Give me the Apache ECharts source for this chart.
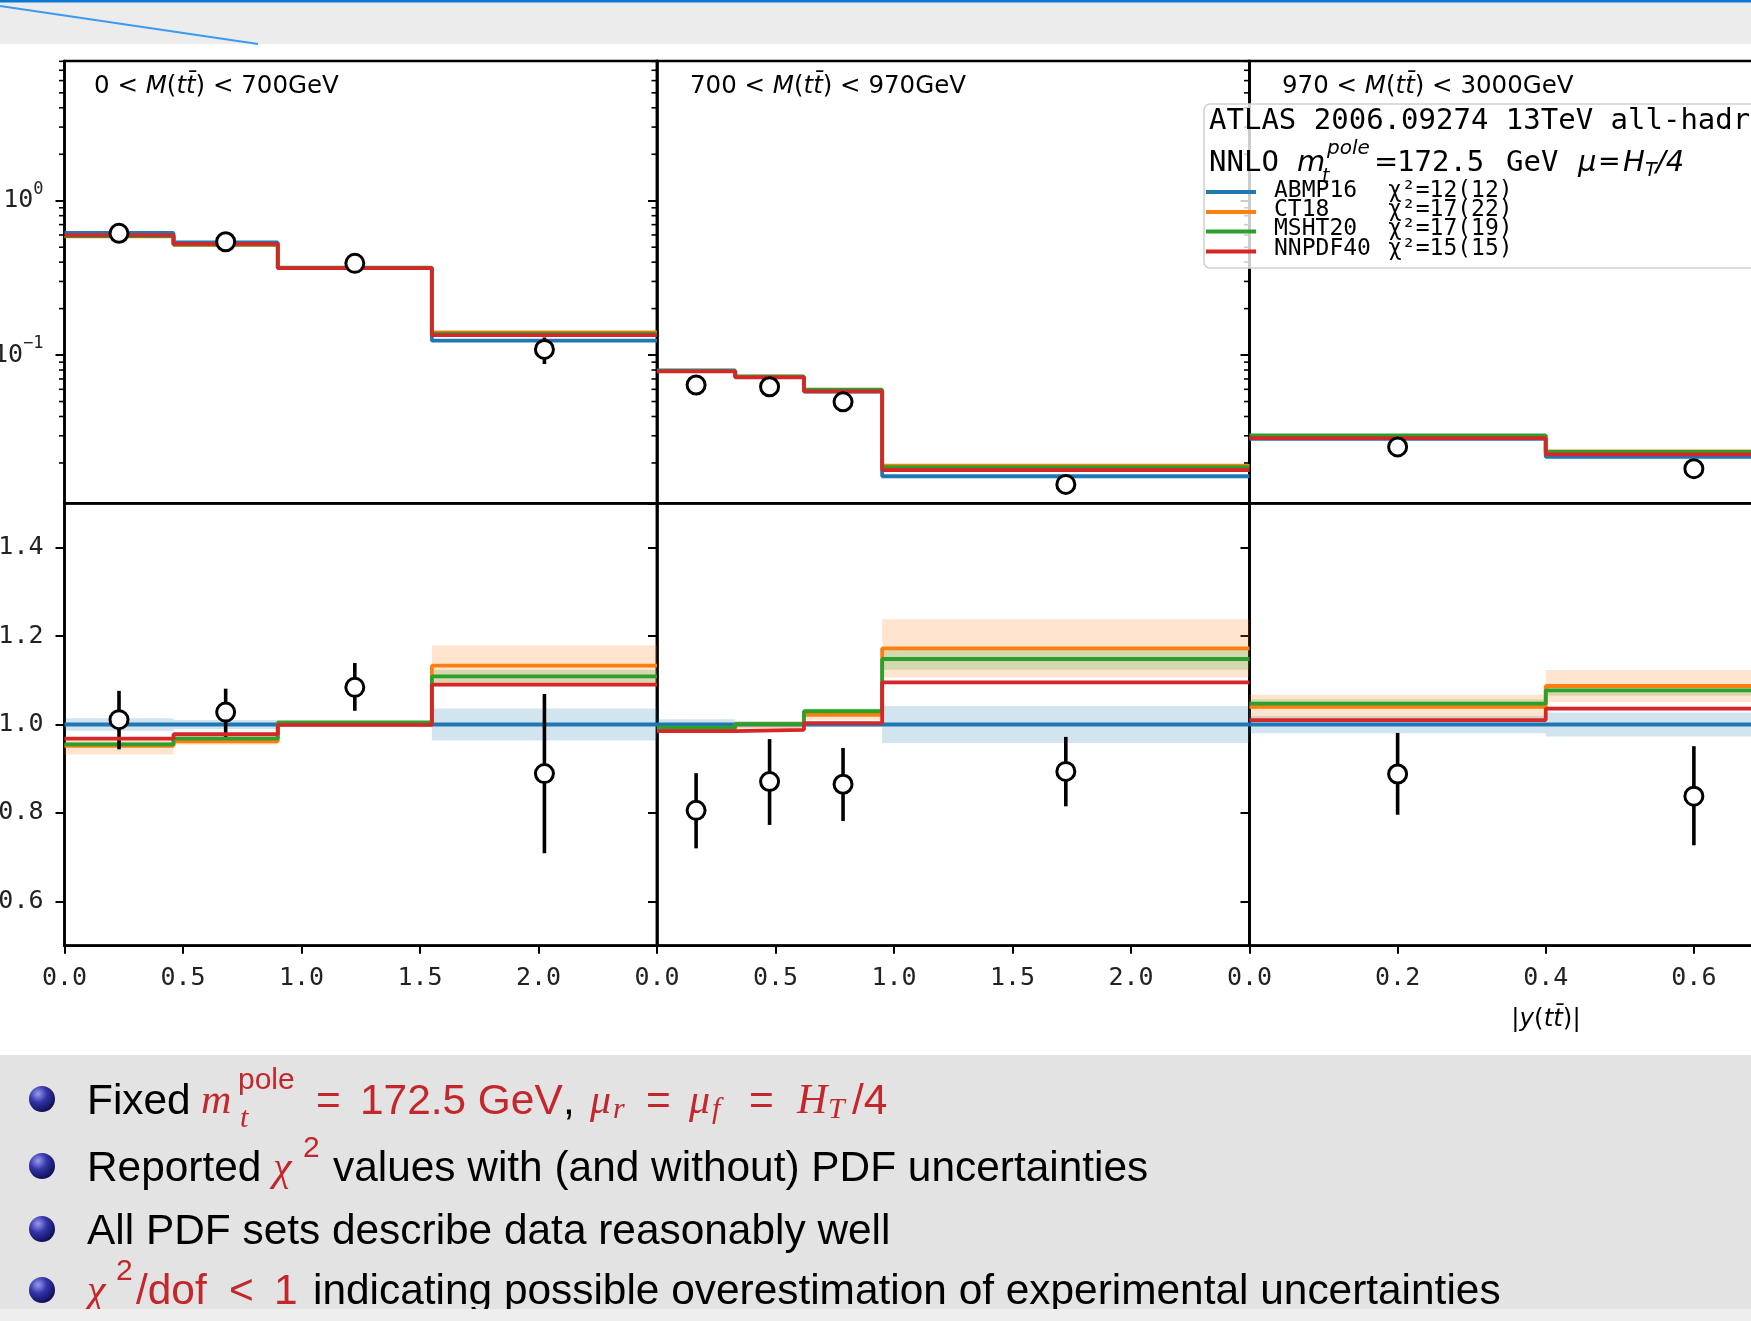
<!DOCTYPE html>
<html><head><meta charset="utf-8">
<script src="https://cdn.jsdelivr.net/npm/echarts@6/dist/echarts.min.js"></script>
<style>html,body{margin:0;padding:0;background:#fff;}#c{width:1751px;height:1321px;}</style>
</head><body><div id="c"></div>
<script>
// ---------------- data ----------------
const pdfNames = ['ABMP16', 'CT18', 'MSHT20', 'NNPDF40'];
const pdfColors = ['#1f77b4', '#ff7f0e', '#2ca02c', '#d62728'];
const pdfBandColors = ['rgba(31,119,180,0.2)', 'rgba(255,127,14,0.2)', 'rgba(44,160,44,0.2)', 'rgba(214,39,40,0.2)'];
const chi2Labels = ['χ²=12(12)', 'χ²=17(22)', 'χ²=17(19)', 'χ²=15(15)'];

const massLow = ['0', '700', '970'];
const massHigh = ['700', '970', '3000'];

const binEdges = [
  [0, 0.46, 0.9, 1.55, 2.5],
  [0, 0.33, 0.62, 0.95, 2.5],
  [0, 0.4, 0.8]
];
const xMax = [2.5, 2.5, 0.8];
const xTickStep = [0.5, 0.5, 0.2];

// absolute cross sections (upper panels, log scale)
const absABMP16 = [[0.618, 0.537, 0.366, 0.124], [0.0795, 0.0725, 0.0580, 0.0164], [0.0287, 0.0219]];
const absCT18 = [[0.588, 0.517, 0.367, 0.1405], [0.0788, 0.0725, 0.0593, 0.0192], [0.0298, 0.0238]];
const absMSHT20 = [[0.590, 0.520, 0.368, 0.1375], [0.0790, 0.0726, 0.0597, 0.0188], [0.0302, 0.0236]];
const absNNPDF40 = [[0.598, 0.525, 0.366, 0.1345], [0.0783, 0.0716, 0.0582, 0.0180], [0.0290, 0.0227]];

const absData = [[0.615, 0.542, 0.393, 0.1088], [0.0640, 0.0623, 0.0498, 0.01452], [0.0254, 0.01836]];
const absDataLo = [[0.575, 0.514, 0.374, 0.0875], [0.0573, 0.0553, 0.0452, 0.01325], [0.0229, 0.0159]];
const absDataHi = [[0.655, 0.570, 0.412, 0.130], [0.0706, 0.0692, 0.0545, 0.0158], [0.0279, 0.0208]];

// ratios to ABMP16 (lower panels)
const ratioABMP16 = [[1, 1, 1, 1], [1, 1, 1, 1], [1, 1]];
const ratioCT18 = [[0.952, 0.962, 1.002, 1.133], [0.990, 1.000, 1.022, 1.172], [1.040, 1.087]];
const ratioMSHT20 = [[0.955, 0.968, 1.005, 1.109], [0.993, 1.001, 1.030, 1.148], [1.047, 1.077]];
const ratioNNPDF40 = [[0.968, 0.978, 0.999, 1.090], [0.985, 0.988, 1.003, 1.095], [1.010, 1.036]];

const bandABMP16 = [[0.014, 0.010, 0.003, 0.036], [0.012, 0.008, 0.005, 0.042], [0.020, 0.027]];
const bandCT18 = [[0.020, 0.008, 0.004, 0.046], [0.007, 0.007, 0.011, 0.066], [0.027, 0.036]];
const bandMSHT20 = [[0.006, 0.005, 0.003, 0.014], [0.004, 0.004, 0.006, 0.024], [0.010, 0.012]];
const bandNNPDF40 = [[0.003, 0.003, 0.002, 0.004], [0.003, 0.003, 0.003, 0.004], [0.003, 0.004]];

const ratioData = [[1.011, 1.028, 1.084, 0.889], [0.806, 0.871, 0.865, 0.894], [0.888, 0.838]];
const ratioDataLo = [[0.944, 0.972, 1.031, 0.709], [0.720, 0.773, 0.782, 0.815], [0.796, 0.727]];
const ratioDataHi = [[1.076, 1.081, 1.139, 1.069], [0.890, 0.967, 0.947, 0.972], [0.981, 0.951]];

const logTickExponents = { '0': '0', '-1': '−1' };
const logMinorTicks = [0.02, 0.03, 0.04, 0.05, 0.06, 0.07, 0.08, 0.09,
  0.2, 0.3, 0.4, 0.5, 0.6, 0.7, 0.8, 0.9, 2, 3, 4, 5, 6, 7, 8];
const logMin = 0.01094, logMax = 8.04;
const ratioMin = 0.5, ratioMax = 1.5;

const absPred = [absABMP16, absCT18, absMSHT20, absNNPDF40];
const ratioPred = [ratioABMP16, ratioCT18, ratioMSHT20, ratioNNPDF40];
const ratioBand = [bandABMP16, bandCT18, bandMSHT20, bandNNPDF40];

// ---------------- layout ----------------
const panelLeft = [64.5, 657, 1249.5];
const panelWidth = 592.5;
const rowTop = [61, 503.3];
const rowHeight = 442.4;
const MONO = '"DejaVu Sans Mono"';
const SANS = '"DejaVu Sans"';
const LW = 3.8;

function stepData(edges, vals) {
  return edges.map((e, i) => [e, vals[Math.min(i, vals.length - 1)]]);
}
function mids(edges) {
  const m = [];
  for (let i = 0; i < edges.length - 1; i++) m.push((edges[i] + edges[i + 1]) / 2);
  return m;
}

const grids = [], xAxes = [], yAxes = [], series = [];
for (let r = 0; r < 2; r++) {
  for (let p = 0; p < 3; p++) {
    const gi = r * 3 + p;
    grids.push({
      left: panelLeft[p], top: rowTop[r], width: panelWidth, height: rowHeight,
      show: true, borderColor: '#000', borderWidth: 2.5, backgroundColor: 'rgba(0,0,0,0)',
      containLabel: false, outerBoundsMode: 'none'
    });
    const bottom = r === 1;
    xAxes.push({
      type: 'value', gridIndex: gi, min: 0, max: xMax[p], interval: xTickStep[p],
      axisLine: { show: bottom, onZero: false, lineStyle: { color: '#000', width: 2.5 } },
      axisTick: { show: bottom, length: 8, lineStyle: { color: '#000', width: 2 } },
      axisLabel: {
        show: bottom, margin: 20, showMaxLabel: false, color: '#222',
        fontFamily: 'DejaVu Sans Mono', fontSize: 25,
        formatter: v => v.toFixed(1)
      },
      splitLine: { show: false }
    });
    if (!bottom) {
      yAxes.push({
        type: 'log', logBase: 10, gridIndex: gi, min: logMin, max: logMax,
        axisLine: { show: true, onZero: false, lineStyle: { color: '#000', width: 2.5 } },
        axisTick: { show: true, length: 9, lineStyle: { color: '#000', width: 2 } },
        axisLabel: {
          show: p === 0, margin: 21, color: '#222', fontFamily: 'DejaVu Sans Mono', fontSize: 25,
          showMinLabel: false, showMaxLabel: false,
          formatter: v => {
            const l = Math.log10(v), rr = Math.round(l);
            if (Math.abs(l - rr) > 1e-6) return '';
            const e = logTickExponents[String(rr)];
            return e === undefined ? '' : '{b|10}{s|' + e + '}';
          },
          rich: {
            b: { fontFamily: 'DejaVu Sans Mono', fontSize: 25, color: '#222', lineHeight: 40, verticalAlign: 'middle' },
            s: { fontFamily: 'DejaVu Sans Mono', fontSize: 17, color: '#222', lineHeight: 18, verticalAlign: 'top' }
          }
        },
        splitLine: { show: false }, minorTick: { show: false }
      });
    } else {
      yAxes.push({
        type: 'value', gridIndex: gi, min: ratioMin, max: ratioMax, splitNumber: 5,
        axisLine: { show: true, onZero: false, lineStyle: { color: '#000', width: 2.5 } },
        axisTick: { show: true, length: 9, lineStyle: { color: '#000', width: 2 } },
        axisLabel: {
          show: p === 0, margin: 21, color: '#222', fontFamily: 'DejaVu Sans Mono', fontSize: 25,
          showMinLabel: false, showMaxLabel: false,
          formatter: v => v.toFixed(1)
        },
        splitLine: { show: false }
      });
    }
  }
}

function errorBarSeries(ai, xs, lo, hi) {
  return {
    type: 'custom', xAxisIndex: ai, yAxisIndex: ai, z: 6, silent: true,
    data: xs.map((x, i) => [x, lo[i], hi[i]]),
    encode: { x: 0, y: [1, 2] },
    renderItem: (params, api) => {
      const a = api.coord([api.value(0), api.value(1)]);
      const b = api.coord([api.value(0), api.value(2)]);
      return { type: 'line', shape: { x1: a[0], y1: a[1], x2: b[0], y2: b[1] },
        style: { stroke: '#000', lineWidth: 3.6 } };
    }
  };
}
function markerSeries(ai, xs, vals) {
  return {
    type: 'scatter', xAxisIndex: ai, yAxisIndex: ai, z: 7, silent: true,
    symbol: 'circle', symbolSize: 18,
    itemStyle: { color: '#fff', borderColor: '#000', borderWidth: 3, opacity: 1 },
    data: xs.map((x, i) => [x, vals[i]])
  };
}

for (let p = 0; p < 3; p++) {
  const edges = binEdges[p];
  const xs = mids(edges);
  // upper panel
  const ai = p;
  for (let k = 0; k < 4; k++) {
    series.push({
      type: 'line', xAxisIndex: ai, yAxisIndex: ai, step: 'end', showSymbol: false, silent: true,
      z: 3 + k, data: stepData(edges, absPred[k][p]),
      lineStyle: { color: pdfColors[k], width: LW }
    });
  }
  series.push(errorBarSeries(ai, xs, absDataLo[p], absDataHi[p]));
  series.push(markerSeries(ai, xs, absData[p]));
  // minor log ticks
  series.push({
    type: 'custom', xAxisIndex: ai, yAxisIndex: ai, z: 8, silent: true, clip: false,
    data: logMinorTicks.map(v => [0, v]),
    encode: { x: 0, y: 1 },
    renderItem: (params, api) => {
      const pt = api.coord([0, api.value(1)]);
      return { type: 'line', shape: { x1: pt[0] - 5.5, y1: pt[1], x2: pt[0], y2: pt[1] },
        style: { stroke: '#000', lineWidth: 1.6 } };
    }
  });
  // lower panel
  const bi = 3 + p;
  for (let k = 0; k < 4; k++) {
    const v = ratioPred[k][p], b = ratioBand[k][p];
    series.push({
      type: 'custom', xAxisIndex: bi, yAxisIndex: bi, z: 1, silent: true,
      data: v.map((val, i) => [edges[i], edges[i + 1], val - b[i], val + b[i]]),
      encode: { x: [0, 1], y: [2, 3] },
      renderItem: (params, api) => {
        const a = api.coord([api.value(0), api.value(3)]);
        const c = api.coord([api.value(1), api.value(2)]);
        return { type: 'rect', shape: { x: a[0], y: a[1], width: c[0] - a[0], height: c[1] - a[1] },
          style: { fill: pdfBandColors[k] } };
      }
    });
  }
  for (let k = 0; k < 4; k++) {
    series.push({
      type: 'line', xAxisIndex: bi, yAxisIndex: bi, step: 'end', showSymbol: false, silent: true,
      z: 3 + k, data: stepData(edges, ratioPred[k][p]),
      lineStyle: { color: pdfColors[k], width: LW }
    });
  }
  series.push(errorBarSeries(bi, xs, ratioDataLo[p], ratioDataHi[p]));
  series.push(markerSeries(bi, xs, ratioData[p]));
}

// ---------------- graphic (texts, slide decoration) ----------------
const RED = '#c3262b';
function txt(x, y, text, font, fill, extra) {
  return Object.assign({
    type: 'text', z: 50, silent: true,
    style: { x: x, y: y, text: text, font: font, fill: fill || '#000',
      align: 'left', textAlign: 'left', verticalAlign: 'middle', textVerticalAlign: 'middle' }
  }, extra || {});
}
const g = [];
// slide header
g.push({ type: 'rect', z: 0, silent: true, shape: { x: 0, y: 0, width: 1751, height: 44 }, style: { fill: '#ececec' } });
g.push({ type: 'rect', z: 1, silent: true, shape: { x: 0, y: 0, width: 1751, height: 2.5 }, style: { fill: '#0a78d2' } });
g.push({ type: 'line', z: 1, silent: true, shape: { x1: 0, y1: 6, x2: 258, y2: 44 }, style: { stroke: '#3a9af0', lineWidth: 2 } });
// bottom bullet block
g.push({ type: 'rect', z: 0, silent: true, shape: { x: 0, y: 1055, width: 1751, height: 254 }, style: { fill: '#e3e3e3' } });

// panel titles
const titleRich = {
  n: { fontFamily: 'DejaVu Sans', fontSize: 24.5, fill: '#000' },
  i: { fontFamily: 'DejaVu Sans', fontSize: 24.5, fontStyle: 'italic', fill: '#000' }
};
const titleX = [94, 690, 1282];
for (let p = 0; p < 3; p++) {
  g.push({ type: 'text', z: 50, silent: true, style: {
    x: titleX[p], y: 87, verticalAlign: 'middle', textVerticalAlign: 'middle',
    text: '{n|' + massLow[p] + ' < }{i|M}{n|(}{i|tt\u0304}{n|) < ' + massHigh[p] + 'GeV}', rich: titleRich } });
}
// x axis title
g.push({ type: 'text', z: 50, silent: true, style: {
  x: 1546, y: 1020, align: 'center', textAlign: 'center', verticalAlign: 'middle', textVerticalAlign: 'middle',
  text: '{n||}{i|y}{n|(}{i|tt\u0304}{n|)|}', rich: titleRich } });

// legend
g.push({ type: 'rect', z: 100, silent: true, shape: { x: 1204, y: 104, width: 640, height: 164, r: 6 },
  style: { fill: 'rgba(255,255,255,0.8)', stroke: '#cfcfcf', lineWidth: 1.5 } });
const LZ = { z: 101 };
g.push(txt(1209, 121, 'ATLAS 2006.09274 13TeV all-hadronic', '29px ' + MONO, '#000', LZ));
g.push(txt(1209, 163, 'NNLO', '29px ' + MONO, '#000', LZ));
g.push(txt(1297, 163, 'm', 'italic 29px ' + SANS, '#000', LZ));
g.push(txt(1327, 149, 'pole', 'italic 20px ' + SANS, '#000', LZ));
g.push(txt(1322, 177, 't', 'italic 19px ' + SANS, '#000', LZ));
g.push(txt(1374, 163, '=', '29px ' + SANS, '#000', LZ));
g.push(txt(1397, 163, '172.5', '29px ' + MONO, '#000', LZ));
g.push(txt(1506, 163, 'GeV', '29px ' + MONO, '#000', LZ));
g.push(txt(1578, 163, 'μ', 'italic 29px ' + SANS, '#000', LZ));
g.push(txt(1598, 163, '=', '27px ' + SANS, '#000', LZ));
g.push(txt(1623, 163, 'H', 'italic 29px ' + SANS, '#000', LZ));
g.push(txt(1645, 171, 'T', 'italic 19px ' + SANS, '#000', LZ));
g.push(txt(1656, 163, '/4', 'italic 29px ' + SANS, '#000', LZ));
const legLineY = [192, 212, 231.5, 251.5];
const legTextY = [191.5, 210, 229.5, 249];
for (let k = 0; k < 4; k++) {
  g.push({ type: 'line', z: 101, silent: true, shape: { x1: 1206, y1: legLineY[k], x2: 1256, y2: legLineY[k] },
    style: { stroke: pdfColors[k], lineWidth: LW } });
  g.push(txt(1274, legTextY[k], pdfNames[k], '23px ' + MONO, '#000', LZ));
  g.push(txt(1388, legTextY[k], chi2Labels[k], '23px ' + MONO, '#000', LZ));
}

// bullets
const bulletY = [1099, 1166, 1229, 1290];
bulletY.forEach(y => {
  g.push({ type: 'circle', z: 50, silent: true, shape: { cx: 42, cy: y, r: 13 },
    style: { fill: new echarts.graphic.RadialGradient(0.35, 0.3, 0.75, [
      { offset: 0, color: '#9a9af0' }, { offset: 0.45, color: '#3434a8' }, { offset: 1, color: '#0c0c50' }]) } });
});
const F = '42.4px "Liberation Sans"';
const FS = '30px "Liberation Sans"';
const FI = 'italic 42px "Liberation Serif"';
const FIS = 'italic 30px "Liberation Serif"';
// line 1
let y1 = 1102;
g.push(txt(87, y1, 'Fixed', F));
g.push(txt(201, y1, 'm', FI, RED));
g.push(txt(238, y1 - 21, 'pole', FS, RED));
g.push(txt(240, y1 + 17, 't', FIS, RED));
g.push(txt(316, y1, '=', F, RED));
g.push(txt(360, y1, '172.5 GeV', F, RED));
g.push(txt(563, y1, ',', F));
g.push(txt(590, y1, 'μ', FI, RED));
g.push(txt(613, y1 + 8, 'r', FIS, RED));
g.push(txt(646, y1, '=', F, RED));
g.push(txt(689, y1, 'μ', FI, RED));
g.push(txt(712, y1 + 8, 'f', FIS, RED));
g.push(txt(749, y1, '=', F, RED));
g.push(txt(797, y1, 'H', FI, RED));
g.push(txt(828, y1 + 8, 'T', FIS, RED));
g.push(txt(852, y1, '/4', F, RED));
// line 2
let y2 = 1169;
g.push(txt(87, y2, 'Reported', F));
g.push(txt(273, y2, 'χ', FI, RED));
g.push(txt(303, y2 - 20, '2', FS, RED));
g.push(txt(333, y2, 'values with (and without) PDF uncertainties', F));
// line 3
g.push(txt(87, 1232, 'All PDF sets describe data reasonably well', F));
// line 4
let y4 = 1292;
g.push(txt(87, y4, 'χ', FI, RED));
g.push(txt(116, y4 - 20, '2', FS, RED));
g.push(txt(136, y4, '/dof', F, RED));
g.push(txt(229, y4, '<', F, RED));
g.push(txt(274, y4, '1', F, RED));
g.push(txt(313, y4, 'indicating possible overestimation of experimental uncertainties', F));
// bottom lighter strip (cuts descenders)
g.push({ type: 'rect', z: 60, silent: true, shape: { x: 0, y: 1309, width: 1751, height: 12 }, style: { fill: '#eeeeee' } });

const chart = echarts.init(document.getElementById('c'), null, { renderer: 'canvas', width: 1751, height: 1321 });
chart.setOption({
  animation: false,
  backgroundColor: '#ffffff',
  grid: grids, xAxis: xAxes, yAxis: yAxes, series: series,
  graphic: { elements: g }
});
</script>
</body></html>
